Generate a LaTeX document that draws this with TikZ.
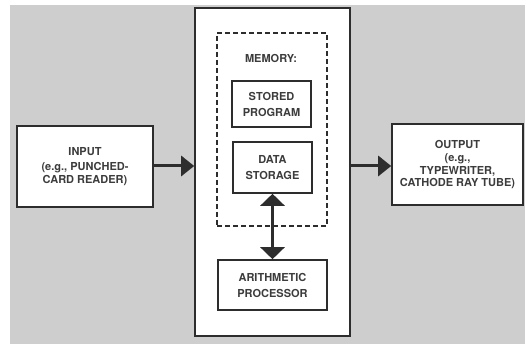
\documentclass[tikz,border=0pt]{standalone}
\usepackage{fontspec}
\setmainfont{TeX Gyre Heros}
\usetikzlibrary{arrows.meta}
\definecolor{paper}{RGB}{206,206,206}
\definecolor{ink}{RGB}{45,45,45}
\definecolor{textink}{RGB}{60,60,60}
\tikzset{
  unit/.style={draw=ink, line width=1.6pt, fill=white, rectangle, inner sep=0pt,
    text=textink, align=center, font=\fontsize{11}{12.5}\selectfont\bfseries},
  pair/.style={unit, font=\fontsize{11}{16}\selectfont\bfseries},
  flow/.style={draw=ink, line width=3pt,
    -{Triangle[length=13pt,width=20pt]}},
  both/.style={draw=ink, line width=3pt,
    {Triangle[length=12pt,width=24pt]}-{Triangle[length=12pt,width=24pt]}},
}
\begin{document}
\begin{tikzpicture}[x=1pt,y=-1pt]
  % page and grey card
  \useasboundingbox (0,0) rectangle (525,344);
  \fill[white] (0,0) rectangle (525,344);
  \fill[paper] (10,5) rectangle (525,344);

  % input and output units
  \node[unit, minimum width=136pt, minimum height=81pt] (inp) at (85,166.5)
    {INPUT\\[3pt](e.g., PUNCHED-\\CARD READER)};
  \node[unit, minimum width=131pt, minimum height=81pt] (out) at (457.5,164.5)
    {OUTPUT\\[1pt](e.g.,\\TYPEWRITER,\\CATHODE RAY TUBE)};

  % central computer
  \node[unit, minimum width=155pt, minimum height=328pt] (cpu) at (272.5,172) {};
  \node[draw=ink, line width=1.3pt, dashed, dash pattern=on 5pt off 3pt,
        minimum width=110pt, minimum height=193pt, inner sep=0pt]
        (mem) at (272,129.5) {};
  \node[text=textink, font=\fontsize{11}{12.5}\selectfont\bfseries] (memlbl) at (271,58) {MEMORY:};
  \node[pair, minimum width=79pt, minimum height=46pt] (prog) at (271.5,104)
    {STORED\\PROGRAM};
  \node[pair, minimum width=79pt, minimum height=51pt] (data) at (272.5,167.5)
    {DATA\\STORAGE};
  \node[pair, minimum width=109pt, minimum height=50pt] (alu) at (272.5,285)
    {ARITHMETIC\\PROCESSOR};

  % data paths
  \draw[flow] (inp.east |- 0,166) -- (cpu.west |- 0,166);
  \draw[flow] (cpu.east |- 0,166) -- (out.west |- 0,166);
  \draw[both] (data.south) -- (alu.north);
\end{tikzpicture}
\end{document}
